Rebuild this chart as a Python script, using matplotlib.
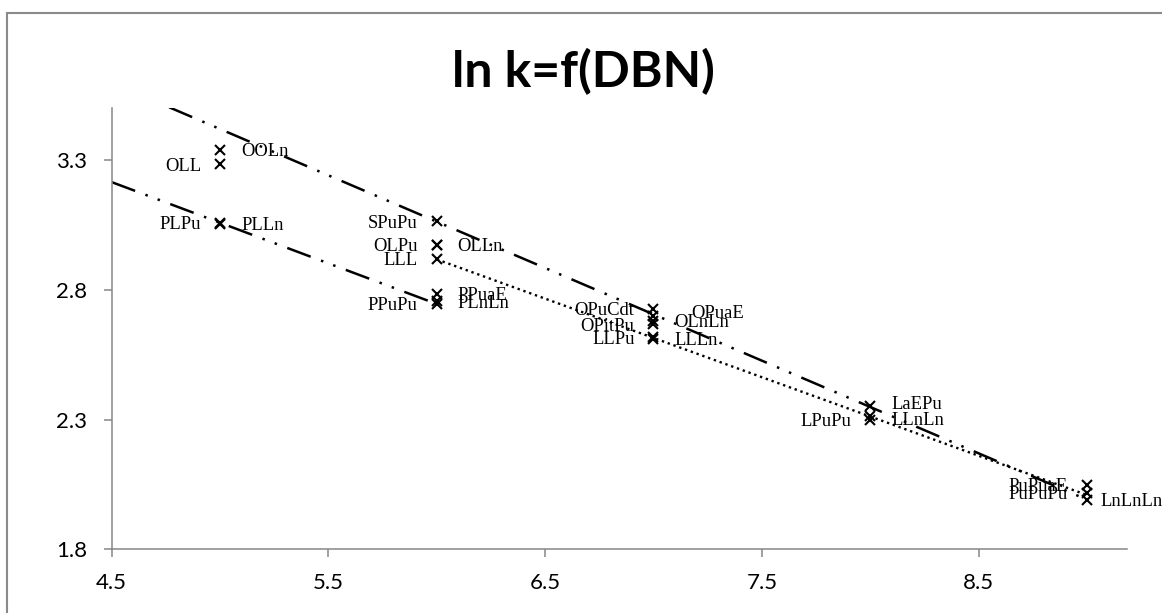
import matplotlib
matplotlib.use("Agg")
import matplotlib.pyplot as plt
from matplotlib.patches import Rectangle
import numpy as np

# ---- data ----
labels = ["OOLn", "OLL", "PLPu", "PLLn",
          "SPuPu", "OLPu", "OLLn", "LLL", "PPuaE", "PLnLn", "PPuPu",
          "OPuCdt", "OPuaE", "OLnLn", "OPitPu", "LLPu", "LLLn",
          "LaEPu", "LLnLn", "LPuPu",
          "PuPuaE", "PuPuPu", "LnLnLn"]
dbn = [5, 5, 5, 5,
       6, 6, 6, 6, 6, 6, 6,
       7, 7, 7, 7, 7, 7,
       8, 8, 8,
       9, 9, 9]
lnk = [3.338, 3.283, 3.058, 3.055,
       3.064, 2.974, 2.972, 2.920, 2.785, 2.755, 2.745,
       2.727, 2.700, 2.681, 2.666, 2.616, 2.612,
       2.353, 2.314, 2.299,
       2.048, 2.017, 1.990]
label_side = ["R", "L", "L", "R",
              "L", "L", "R", "L", "R", "R", "L",
              "L", "R", "R", "L", "L", "R",
              "R", "R", "L",
              "L", "L", "R"]

# trendline groups (linear fits), with backward forecast start
trend_upper = ["SPuPu", "OPuaE", "LaEPu", "LnLnLn"]
trend_lower = ["PLPu", "PPuPu"]
trend_dotted = ["LLL", "LLPu", "LPuPu", "PuPuPu"]
forecast_start = 4.5

x_ticks = [4.5, 5.5, 6.5, 7.5, 8.5]
y_ticks = [1.8, 2.3, 2.8, 3.3]
x_range = (4.5, 9.185)
y_range = (1.8, 3.5)
title = "ln k=f(DBN)"

# manual label nudges (points)
label_nudge = {"OPuaE": (12.3, 3.0), "LnLnLn": (-5.7, 0.0),
               "LaEPu": (0.0, 2.2), "LLnLn": (0.0, -2.2)}

W, H = 1162, 613
fig = plt.figure(figsize=(W / 100, H / 100), dpi=100)
fig.patch.set_facecolor("white")

ax = fig.add_axes([111.7 / W, (H - 549.3) / H, (1127 - 111.7) / W, (549.3 - 108) / H])

idx = {lab: i for i, lab in enumerate(labels)}


def fit_line(group, start=None):
    xs = np.array([dbn[idx[g]] for g in group], float)
    ys = np.array([lnk[idx[g]] for g in group], float)
    m, b = np.polyfit(xs, ys, 1)
    x0 = xs.min() if start is None else start
    xx = np.array([x0, xs.max()])
    return xx, m * xx + b


grey = "#868686"
dashdotdot = (0, (10, 4.4, 1, 4.2, 1, 4.4))

xx, yy = fit_line(trend_upper, forecast_start)
ax.plot(xx, yy, color="black", lw=1.8, linestyle=dashdotdot, dash_capstyle="butt", zorder=2)
xx, yy = fit_line(trend_lower, forecast_start)
ax.plot(xx, yy, color="black", lw=1.8, linestyle=dashdotdot, dash_capstyle="butt", zorder=2)
xx, yy = fit_line(trend_dotted)
ax.plot(xx, yy, color="black", lw=1.7, linestyle=(0, (1, 1.6)), dash_capstyle="butt", zorder=2)

ax.plot(dbn, lnk, linestyle="none", marker="x", markersize=6.5, markeredgewidth=1.5,
        color="black", zorder=3)

for lab, x, y, s in zip(labels, dbn, lnk, label_side):
    dx, dy = label_nudge.get(lab, (0.0, 0.0))
    if s == "R":
        ax.annotate(lab, (x, y), xytext=(15.1 + dx, -4.6 + dy), textcoords="offset points",
                    ha="left", va="baseline", fontsize=13.4, family="Liberation Serif",
                    color="black", zorder=4)
    else:
        ax.annotate(lab, (x, y), xytext=(-13.7 + dx, -4.6 + dy), textcoords="offset points",
                    ha="right", va="baseline", fontsize=13.4, family="Liberation Serif",
                    color="black", zorder=4)

ax.set_xlim(*x_range)
ax.set_ylim(*y_range)
ax.set_xticks(x_ticks)
ax.set_yticks(y_ticks)
ax.set_xticklabels([f"{v:g}" for v in x_ticks])
ax.set_yticklabels([f"{v:g}" for v in y_ticks])
for sp in ["top", "right"]:
    ax.spines[sp].set_visible(False)
for sp in ["left", "bottom"]:
    ax.spines[sp].set_color(grey)
    ax.spines[sp].set_linewidth(1.1)
ax.tick_params(axis="both", direction="out", length=5.8, width=1.1, color=grey,
               labelsize=16, labelcolor="black")
ax.tick_params(axis="x", pad=11)
ax.tick_params(axis="y", pad=12)
for t in ax.get_xticklabels() + ax.get_yticklabels():
    t.set_family("Lato")
ax.set_facecolor("none")

fig.text(583 / W, 1 - 72 / H, title, ha="center", va="center", fontsize=36,
         fontweight="bold", family="Lato")

fig.patches.append(Rectangle((7.3 / W, -0.1), 1.2, (H - 13.3) / H + 0.1,
                             transform=fig.transFigure, fill=False,
                             edgecolor="#8a8a8a", lw=1.5))

fig.savefig("out.png", dpi=100)
